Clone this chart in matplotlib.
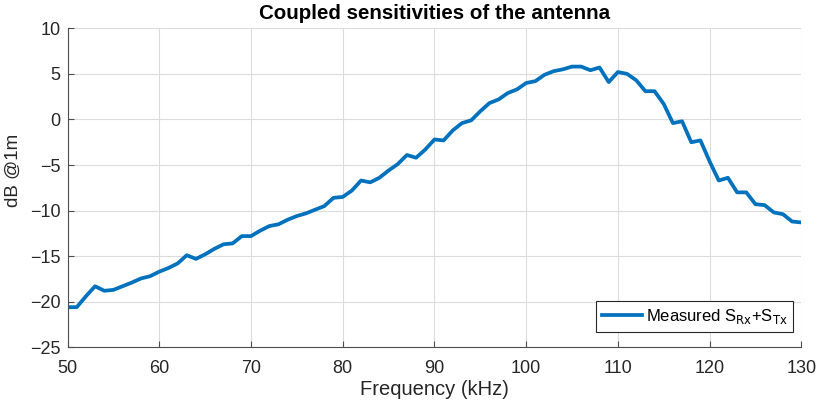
import matplotlib.pyplot as plt
import numpy as np

plt.rcParams['font.family'] = ['Liberation Sans', 'DejaVu Sans']

freq_khz = np.arange(50, 131)
sens_db = [
    -20.6, -20.6, -19.4, -18.3, -18.8, -18.7, -18.3, -17.9, -17.45, -17.2,
    -16.7, -16.3, -15.8, -14.9, -15.3, -14.8, -14.2, -13.7, -13.6, -12.8,
    -12.8, -12.2, -11.7, -11.5, -11.0, -10.6, -10.3, -9.9, -9.5, -8.6,
    -8.5, -7.8, -6.7, -6.9, -6.4, -5.6, -4.9, -3.9, -4.2, -3.3,
    -2.2, -2.3, -1.2, -0.4, -0.1, 0.9, 1.8, 2.2, 2.9, 3.3,
    4.0, 4.2, 4.9, 5.3, 5.5, 5.8, 5.8, 5.4, 5.7, 4.1,
    5.2, 5.0, 4.3, 3.1, 3.1, 1.7, -0.4, -0.2, -2.5, -2.3,
    -4.6, -6.7, -6.4, -8.0, -8.0, -9.3, -9.4, -10.2, -10.4, -11.2,
    -11.3,
]
xticks = np.arange(50, 131, 10)
yticks = np.arange(-25, 11, 5)

fig = plt.figure(figsize=(8.16, 4.08), dpi=100)
ax = fig.add_axes([0.0828, 0.1488, 0.8992, 0.7818])

ax.plot(freq_khz, sens_db, color='#0072BD', lw=2.7,
        label=r'Measured S$_{\rm Rx}$+S$_{\rm Tx}$')

ax.set_xlim(50, 130)
ax.set_ylim(-25, 10)
ax.set_xticks(xticks)
ax.set_yticks(yticks)
ax.grid(True, color='#dcdcdc', lw=0.8)
ax.set_axisbelow(True)
for s in ['top', 'right']:
    ax.spines[s].set_visible(False)
for s in ['left', 'bottom']:
    ax.spines[s].set_color('#4d4d4d')
    ax.spines[s].set_linewidth(0.8)
ax.tick_params(direction='in', length=4, color='#4d4d4d', labelsize=13,
               labelcolor='#262626')
ax.tick_params(axis='x', pad=9)
ax.tick_params(axis='y', pad=5)

ax.set_title('Coupled sensitivities of the antenna', fontsize=14.8,
             fontweight='bold', color='black', pad=7)
ax.set_xlabel('Frequency (kHz)', fontsize=14.5, color='#262626', labelpad=2)
ax.set_ylabel('dB @1m', fontsize=13.5, color='#262626')
ax.yaxis.set_label_coords(-0.062, 0.556)

leg = ax.legend(loc='lower right', bbox_to_anchor=(0.989, 0.048),
                fontsize=12, frameon=True, fancybox=False,
                edgecolor='#262626', framealpha=1, handlelength=2.4,
                borderaxespad=0, handletextpad=0.2, borderpad=0.35)
leg.get_frame().set_linewidth(0.8)

fig.savefig('out.png', dpi=100)
